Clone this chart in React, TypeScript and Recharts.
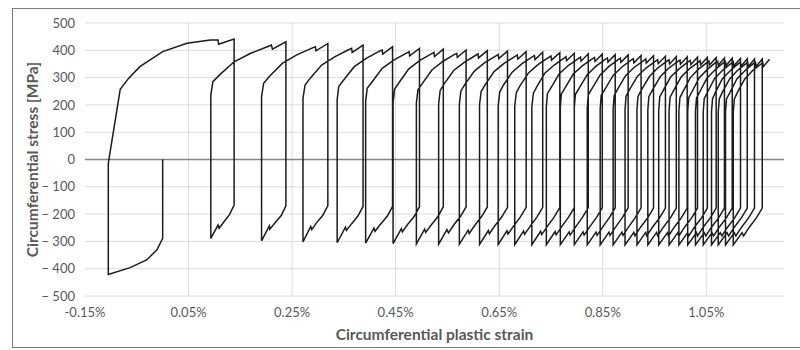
import { LineChart, Line, XAxis, YAxis, CartesianGrid, ReferenceLine, Label } from 'recharts'

type Pt = [number, number]

const strainTicks = [-0.15, 0.05, 0.25, 0.45, 0.65, 0.85, 1.05]
const stressTicks = [-500, -400, -300, -200, -100, 0, 100, 200, 300, 400, 500]

// first compression, first big tension run, first unloading
const firstLoop: Pt[] = [
  [0, 0], [0, -289], [-0.011, -331], [-0.031, -368], [-0.063, -396], [-0.105, -421],
  [-0.105, -14], [-0.082, 257], [-0.066, 297], [-0.044, 340], [0.0, 395], [0.047, 426],
  [0.092, 438], [0.107, 438], [0.108, 422], [0.138, 441],
  [0.138, -167], [0.129, -202], [0.118, -229], [0.109, -252], [0.107, -240], [0.093, -289],
]

// each cycle: tension branch up to the peak, then the compression branch down to the next valley
const cyclesEarly: Pt[][] = [
  [[0.093, 236], [0.097, 285], [0.110, 310], [0.138, 358], [0.170, 389], [0.202, 413], [0.210, 419], [0.212, 404], [0.238, 431], [0.238, -170], [0.229, -205], [0.217, -232], [0.207, -255], [0.206, -243], [0.191, -298]],
  [[0.191, 230], [0.195, 279], [0.206, 304], [0.231, 352], [0.259, 383], [0.287, 407], [0.295, 413], [0.296, 398], [0.319, 425], [0.319, -170], [0.309, -205], [0.297, -232], [0.288, -257], [0.286, -245], [0.271, -302]],
  [[0.271, 224], [0.275, 273], [0.285, 298], [0.307, 346], [0.333, 377], [0.358, 401], [0.365, 407], [0.366, 392], [0.387, 419], [0.387, -172], [0.377, -207], [0.365, -235], [0.355, -260], [0.353, -248], [0.337, -305]],
  [[0.337, 218], [0.340, 267], [0.350, 292], [0.370, 340], [0.394, 371], [0.417, 395], [0.424, 401], [0.425, 386], [0.444, 413], [0.444, -172], [0.434, -207], [0.421, -236], [0.410, -263], [0.408, -251], [0.392, -306]],
  [[0.392, 212], [0.395, 261], [0.405, 286], [0.424, 334], [0.447, 365], [0.470, 389], [0.476, 395], [0.477, 380], [0.496, 407], [0.496, -173], [0.486, -208], [0.473, -238], [0.463, -265], [0.461, -253], [0.445, -308]],
  [[0.445, 209], [0.448, 258], [0.457, 283], [0.475, 331], [0.496, 362], [0.518, 386], [0.524, 392], [0.525, 377], [0.542, 404], [0.542, -173], [0.532, -208], [0.519, -239], [0.508, -267], [0.506, -255], [0.490, -309]],
  [[0.490, 206], [0.493, 255], [0.502, 280], [0.520, 328], [0.541, 359], [0.562, 383], [0.568, 389], [0.569, 374], [0.586, 401], [0.586, -174], [0.575, -209], [0.562, -240], [0.552, -269], [0.549, -257], [0.533, -310]],
  [[0.533, 204], [0.536, 253], [0.544, 278], [0.562, 326], [0.583, 357], [0.604, 381], [0.609, 387], [0.610, 372], [0.627, 399], [0.627, -174], [0.616, -209], [0.603, -241], [0.592, -271], [0.590, -259], [0.573, -310]],
  [[0.573, 202], [0.576, 251], [0.584, 276], [0.602, 324], [0.622, 355], [0.643, 379], [0.648, 385], [0.649, 370], [0.666, 397], [0.666, -175], [0.655, -210], [0.642, -242], [0.631, -272], [0.629, -260], [0.612, -311]],
  [[0.612, 200], [0.615, 249], [0.623, 274], [0.640, 322], [0.660, 353], [0.680, 377], [0.685, 383], [0.686, 368], [0.702, 395], [0.702, -175], [0.691, -210], [0.678, -243], [0.667, -273], [0.665, -261], [0.648, -311]],
]

const cyclesMid: Pt[][] = [
  [[0.648, 198], [0.651, 247], [0.658, 272], [0.675, 320], [0.694, 351], [0.713, 375], [0.718, 381], [0.719, 366], [0.734, 393], [0.734, -175], [0.723, -210], [0.710, -244], [0.699, -274], [0.697, -262], [0.680, -312]],
  [[0.680, 196], [0.683, 245], [0.690, 270], [0.707, 318], [0.726, 349], [0.745, 373], [0.750, 379], [0.751, 364], [0.767, 391], [0.767, -176], [0.756, -211], [0.743, -245], [0.732, -275], [0.730, -263], [0.713, -312]],
  [[0.713, 194], [0.716, 243], [0.723, 268], [0.738, 316], [0.757, 347], [0.775, 371], [0.779, 377], [0.780, 362], [0.795, 389], [0.795, -176], [0.784, -211], [0.771, -245], [0.760, -276], [0.758, -264], [0.741, -312]],
  [[0.741, 192], [0.743, 241], [0.751, 266], [0.766, 314], [0.784, 345], [0.802, 369], [0.807, 375], [0.808, 360], [0.822, 387], [0.822, -176], [0.811, -211], [0.798, -246], [0.787, -277], [0.785, -265], [0.768, -312]],
  [[0.768, 191], [0.770, 240], [0.778, 265], [0.793, 313], [0.811, 344], [0.829, 368], [0.834, 374], [0.835, 359], [0.849, 386], [0.849, -177], [0.838, -212], [0.825, -246], [0.814, -277], [0.812, -265], [0.795, -312]],
  [[0.795, 189], [0.797, 238], [0.805, 263], [0.820, 311], [0.837, 342], [0.854, 366], [0.859, 372], [0.860, 357], [0.874, 384], [0.874, -177], [0.863, -212], [0.850, -247], [0.839, -278], [0.837, -266], [0.820, -313]],
  [[0.820, 188], [0.822, 237], [0.830, 262], [0.845, 310], [0.862, 341], [0.879, 365], [0.884, 371], [0.885, 356], [0.899, 383], [0.899, -177], [0.888, -212], [0.875, -247], [0.864, -278], [0.862, -266], [0.845, -313]],
  [[0.845, 186], [0.847, 235], [0.855, 260], [0.870, 308], [0.887, 339], [0.904, 363], [0.909, 369], [0.910, 354], [0.924, 381], [0.924, -177], [0.913, -212], [0.900, -247], [0.889, -278], [0.887, -266], [0.870, -313]],
  [[0.870, 185], [0.872, 234], [0.879, 259], [0.894, 307], [0.911, 338], [0.929, 362], [0.933, 368], [0.934, 353], [0.948, 380], [0.948, -178], [0.937, -213], [0.923, -248], [0.912, -279], [0.910, -267], [0.893, -313]],
  [[0.893, 183], [0.895, 232], [0.902, 257], [0.917, 305], [0.934, 336], [0.952, 360], [0.956, 366], [0.957, 351], [0.971, 378], [0.971, -178], [0.960, -213], [0.946, -248], [0.935, -279], [0.933, -267], [0.916, -313]],
  [[0.916, 182], [0.918, 231], [0.925, 256], [0.940, 304], [0.956, 335], [0.973, 359], [0.978, 365], [0.979, 350], [0.992, 377], [0.992, -178], [0.981, -213], [0.967, -248], [0.956, -279], [0.954, -267], [0.937, -313]],
]

const cyclesLate: Pt[][] = [
  [[0.937, 181], [0.939, 230], [0.946, 255], [0.961, 303], [0.977, 334], [0.994, 358], [0.999, 364], [1.000, 349], [1.013, 376], [1.013, -178], [1.002, -213], [0.988, -248], [0.977, -280], [0.975, -268], [0.958, -313]],
  [[0.958, 180], [0.960, 229], [0.967, 254], [0.981, 302], [0.998, 333], [1.014, 357], [1.019, 363], [1.020, 348], [1.033, 375], [1.033, -178], [1.022, -213], [1.008, -248], [0.997, -280], [0.995, -268], [0.978, -313]],
  [[0.978, 179], [0.980, 228], [0.987, 253], [1.001, 301], [1.017, 332], [1.034, 356], [1.038, 362], [1.039, 347], [1.052, 374], [1.052, -178], [1.041, -213], [1.027, -248], [1.016, -280], [1.014, -268], [0.997, -313]],
  [[0.997, 178], [0.999, 227], [1.006, 252], [1.019, 300], [1.035, 331], [1.051, 355], [1.055, 361], [1.056, 346], [1.069, 373], [1.069, -178], [1.058, -213], [1.044, -248], [1.033, -280], [1.031, -268], [1.014, -313]],
  [[1.014, 177], [1.016, 226], [1.023, 251], [1.036, 299], [1.052, 330], [1.067, 354], [1.072, 360], [1.073, 345], [1.085, 372], [1.085, -178], [1.074, -213], [1.060, -248], [1.049, -280], [1.046, -268], [1.029, -313]],
  [[1.029, 176], [1.031, 225], [1.038, 250], [1.051, 298], [1.067, 329], [1.082, 353], [1.087, 359], [1.088, 344], [1.100, 371], [1.100, -178], [1.089, -213], [1.075, -248], [1.064, -280], [1.061, -268], [1.044, -313]],
  [[1.044, 175], [1.046, 224], [1.053, 249], [1.066, 297], [1.082, 328], [1.098, 352], [1.102, 358], [1.103, 343], [1.116, 370], [1.116, -178], [1.105, -213], [1.091, -248], [1.080, -280], [1.077, -268], [1.060, -313]],
  [[1.060, 174], [1.062, 223], [1.068, 248], [1.081, 296], [1.097, 327], [1.112, 351], [1.116, 357], [1.117, 342], [1.129, 369], [1.129, -178], [1.118, -213], [1.104, -248], [1.093, -280], [1.090, -268], [1.073, -313]],
  [[1.073, 173], [1.075, 222], [1.081, 247], [1.095, 295], [1.110, 326], [1.126, 350], [1.130, 356], [1.131, 341], [1.143, 368], [1.143, -178], [1.132, -213], [1.118, -248], [1.107, -280], [1.104, -268], [1.087, -313]],
  [[1.087, 173], [1.089, 222], [1.096, 247], [1.109, 295], [1.125, 326], [1.140, 350], [1.145, 356], [1.146, 341], [1.158, 368], [1.158, -178], [1.147, -213], [1.133, -248], [1.122, -280], [1.119, -268], [1.102, -313]],
  // last tension branch, ends at the top
  [[1.102, 172], [1.104, 221], [1.110, 246], [1.124, 294], [1.139, 325], [1.155, 349], [1.159, 355], [1.160, 340], [1.172, 367]],
]

const data = [firstLoop, ...cyclesEarly, ...cyclesMid, ...cyclesLate]
  .flat()
  .map(([strain, stress]) => ({ strain, stress }))

const AXIS_TEXT = '#595959'
const FONT = 'Lato, "Open Sans", sans-serif'

const fmtStress = (v: number) => (v < 0 ? `\u2212 ${Math.abs(v)}` : `${v}`)
const fmtStrain = (v: number) => `${v.toFixed(2)}%`

export default function App() {
  return (
    <div style={{ position: 'absolute', left: 0, top: 0, width: 800, height: 350, overflow: 'hidden', background: '#fff', fontFamily: FONT }}>
      <div style={{ position: 'absolute', left: 12, top: 8, width: 800, height: 340, border: '1.5px solid #7a7a7a', boxSizing: 'border-box' }} />
      <LineChart width={800} height={350} data={data} margin={{ top: 23, right: 16, bottom: 0, left: 0 }}>
        <CartesianGrid stroke="#dcdcdc" strokeWidth={1} verticalValues={strainTicks.slice(1)} />
        <XAxis
          dataKey="strain"
          type="number"
          domain={[-0.15, 1.2]}
          ticks={strainTicks}
          tickFormatter={fmtStrain}
          axisLine={false}
          tickLine={false}
          tickSize={0}
          tickMargin={12}
          height={54}
          allowDataOverflow
          tick={{ fill: AXIS_TEXT, fontSize: 13, fontFamily: FONT }}
        >
          <Label value="Circumferential plastic strain" position="insideBottom" offset={10} style={{ fill: AXIS_TEXT, fontSize: 15.5, fontWeight: 700, fontFamily: FONT }} />
        </XAxis>
        <YAxis
          type="number"
          domain={[-500, 500]}
          ticks={stressTicks}
          tickFormatter={fmtStress}
          axisLine={false}
          tickLine={false}
          tickSize={0}
          tickMargin={10}
          width={85}
          tick={{ fill: AXIS_TEXT, fontSize: 13, fontFamily: FONT }}
        >
          <Label value="Circumferential stress [MPa]" angle={-90} position="insideLeft" offset={32} style={{ textAnchor: 'middle', fill: AXIS_TEXT, fontSize: 15.5, fontWeight: 700, fontFamily: FONT }} />
        </YAxis>
        <ReferenceLine y={0} stroke="#858585" strokeWidth={1.5} />
        <Line
          dataKey="stress"
          type="linear"
          stroke="#1c1c1c"
          strokeWidth={1.5}
          dot={false}
          activeDot={false}
          isAnimationActive={false}
        />
      </LineChart>
    </div>
  )
}
